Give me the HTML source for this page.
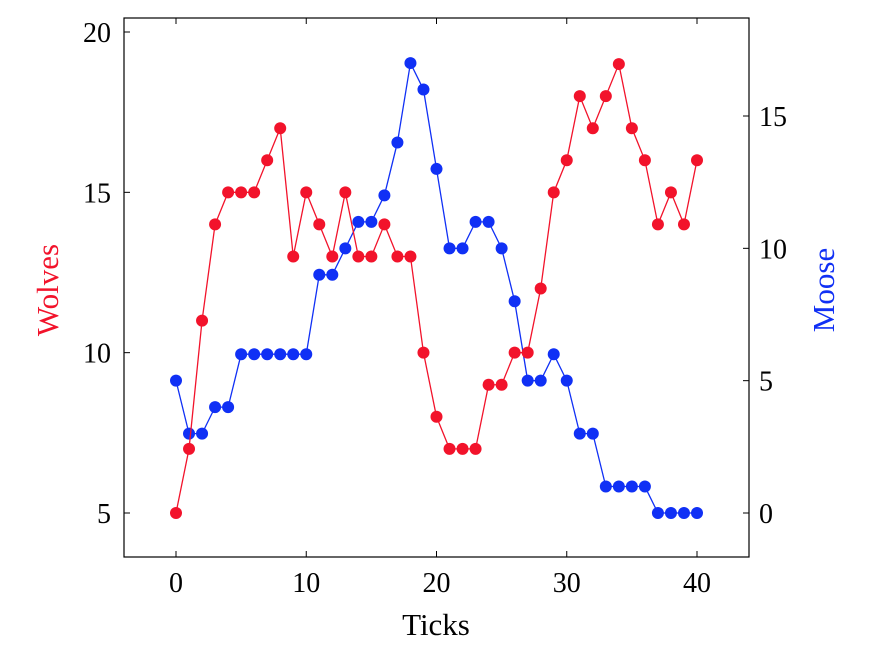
<!DOCTYPE html>
<html><head><meta charset="utf-8"><style>
html,body{margin:0;padding:0;background:#fff;}
svg{display:block;font-family:"Liberation Serif",serif;}
</style></head><body>
<svg id="chart" width="878" height="668">
<rect x="124" y="18" width="625" height="539" fill="none" stroke="#000" stroke-width="1.2"/>
<g id="ticks"></g>
<g id="series"></g>
<text x="436" y="635" font-size="31" text-anchor="middle">Ticks</text>
<text transform="translate(58,290) rotate(-90)" font-size="31" fill="#f2132b" text-anchor="middle">Wolves</text>
<text transform="translate(834,290) rotate(-90)" font-size="31" fill="#1030f5" text-anchor="middle">Moose</text>
</svg>
<script>
const ticksX = [0,1,2,3,4,5,6,7,8,9,10,11,12,13,14,15,16,17,18,19,20,21,22,23,24,25,26,27,28,29,30,31,32,33,34,35,36,37,38,39,40];
const wolves = [5,7,11,14,15,15,15,16,17,13,15,14,13,15,13,13,14,13,13,10,8,7,7,7,9,9,10,10,12,15,16,18,17,18,19,17,16,14,15,14,16];
const moose = [5,3,3,4,4,6,6,6,6,6,6,9,9,10,11,11,12,14,17,16,13,10,10,11,11,10,8,5,5,6,5,3,3,1,1,1,1,0,0,0,0];
const xTickLabels = [0,10,20,30,40];
const leftTickLabels = [5,10,15,20];
const rightTickLabels = [0,5,10,15];

const NS="http://www.w3.org/2000/svg";
const sx = v => 176 + v*(697-176)/40;
const syL = v => 513 - (v-5)*(513-32)/15;
const syR = v => 513 - v*(513-116)/15;
function mk(tag, attrs, parent){const e=document.createElementNS(NS,tag);for(const k in attrs)e.setAttribute(k,attrs[k]);parent.appendChild(e);return e;}
const tg=document.getElementById('ticks');
xTickLabels.forEach(v=>{
  const x=sx(v);
  const a=mk('line',{x1:x,x2:x,y1:557,y2:551,stroke:'#000'},tg);
  
  
  const b=mk('line',{x1:x,x2:x,y1:18,y2:24,stroke:'#000'},tg);
  
  
  const t=mk('text',{x:x,y:592,'font-size':28,'text-anchor':'middle'},tg);
  t.textContent=v;
  
  
});
leftTickLabels.forEach(v=>{
  const y=syL(v);
  const a=mk('line',{x1:124,x2:130,y1:y,y2:y,stroke:'#000'},tg);
  
  
  const t=mk('text',{x:111,y:y+10,'font-size':28,'text-anchor':'end'},tg);
  t.textContent=v;
  
  
});
rightTickLabels.forEach(v=>{
  const y=syR(v);
  const a=mk('line',{x1:743,x2:749,y1:y,y2:y,stroke:'#000'},tg);
  
  
  const t=mk('text',{x:759,y:y+10,'font-size':28,'text-anchor':'start'},tg);
  t.textContent=v;
  
  
});
const sg=document.getElementById('series');
function drawSeries(vals, sy, color, name){
  const pts=vals.map((v,i)=>sx(ticksX[i])+','+sy(v)).join(' ');
  const pl=mk('polyline',{points:pts,fill:'none',stroke:color,'stroke-width':1.3},sg);
  
  
  vals.forEach((v,i)=>{
    const c=mk('circle',{cx:sx(ticksX[i]),cy:sy(v),r:6,fill:color},sg);
    
    
  });
}
drawSeries(moose, syR, '#1030f5', 'moose');
drawSeries(wolves, syL, '#f2132b', 'wolves');
</script>
</body></html>
